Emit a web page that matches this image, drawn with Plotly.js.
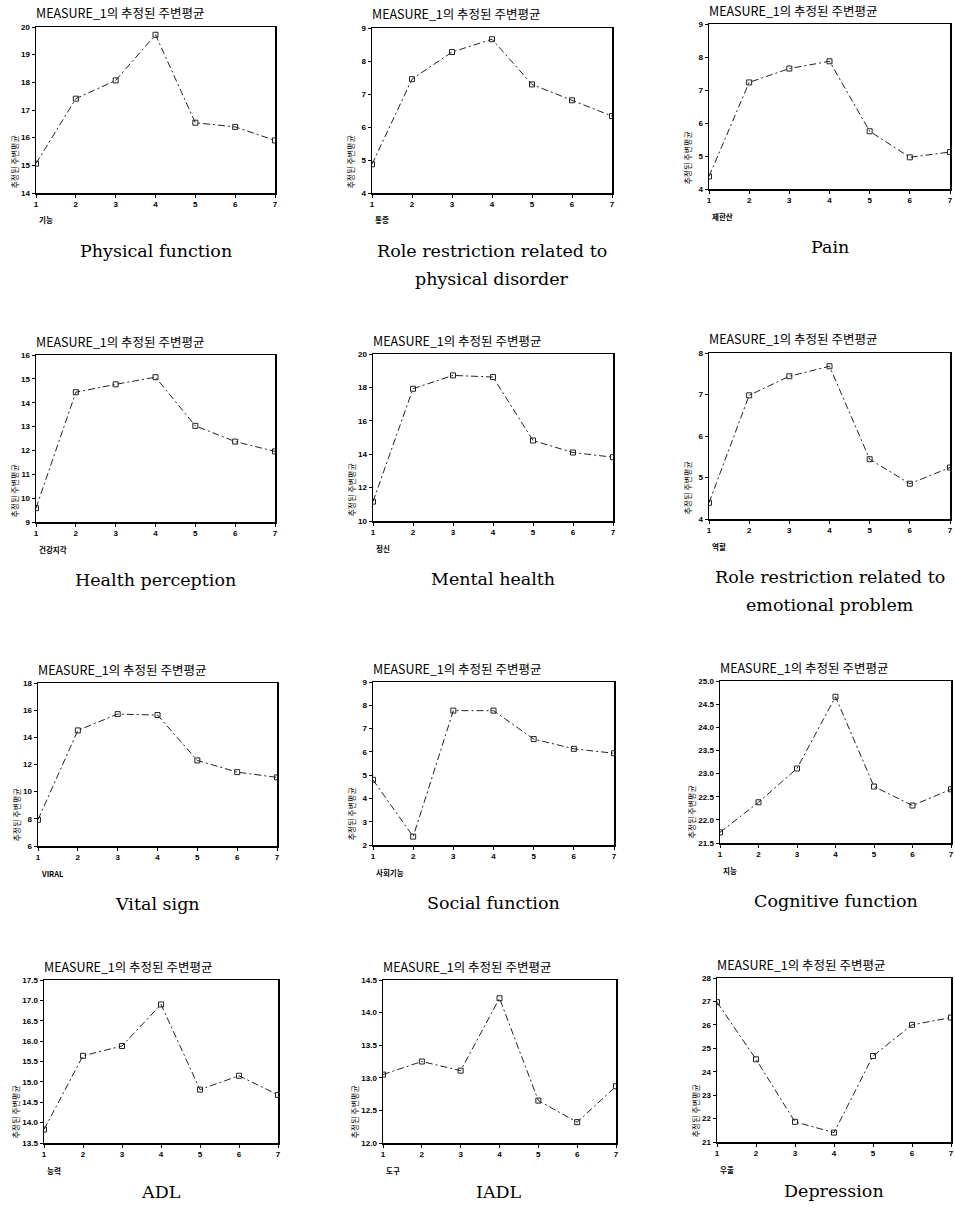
<!DOCTYPE html>
<html><head><meta charset="utf-8">
<script src="https://cdn.plot.ly/plotly-3.0.1.min.js"></script>
<style>html,body{margin:0;padding:0;background:#fff;}#chart{width:955px;height:1213px;}</style>
</head><body><div id="chart"></div>
<script>
// ---- data ----
const groups = [1, 2, 3, 4, 5, 6, 7];
const physicalFunction = [15.06, 17.41, 18.07, 19.72, 16.54, 16.39, 15.9];
const roleRestrictionPhysical = [4.87, 7.45, 8.27, 8.66, 7.29, 6.81, 6.33];
const pain = [4.38, 7.23, 7.65, 7.87, 5.75, 4.96, 5.12];
const healthPerception = [9.58, 14.44, 14.77, 15.07, 13.03, 12.37, 11.96];
const mentalHealth = [11.16, 17.92, 18.72, 18.62, 14.82, 14.1, 13.82];
const roleRestrictionEmotional = [4.39, 6.98, 7.44, 7.68, 5.44, 4.85, 5.24];
const vitalSign = [7.93, 14.51, 15.71, 15.64, 12.3, 11.44, 11.05];
const socialFunction = [4.8, 2.36, 7.77, 7.77, 6.55, 6.13, 5.94];
const cognitiveFunction = [21.73, 22.38, 23.11, 24.66, 22.72, 22.31, 22.66];
const adl = [13.83, 15.64, 15.88, 16.9, 14.81, 15.15, 14.68];
const iadl = [13.05, 13.25, 13.11, 14.22, 12.65, 12.32, 12.87];
const depression = [26.97, 24.53, 21.86, 21.4, 24.67, 26.0, 26.31];

const seriesList = [physicalFunction, roleRestrictionPhysical, pain, healthPerception, mentalHealth,
  roleRestrictionEmotional, vitalSign, socialFunction, cognitiveFunction, adl, iadl, depression];
const captions = ["Physical function", "Role restriction related to<br>physical disorder", "Pain",
  "Health perception", "Mental health", "Role restriction related to<br>emotional problem",
  "Vital sign", "Social function", "Cognitive function", "ADL", "IADL", "Depression"];
const koreanLabels = ["기능", "통증", "제한산", "건강지각", "정신", "역할", "VIRAL", "사회기능", "지능", "능력", "도구", "우울"];
const yMin = [14, 4, 4, 9, 10, 4, 6, 2, 21.5, 13.5, 12, 21];
const yMax = [20, 9, 9, 16, 20, 8, 18, 9, 25, 17.5, 14.5, 28];
const yStep = [1, 1, 1, 1, 2, 1, 2, 1, 0.5, 0.5, 0.5, 1];
const chartTitle = "MEASURE_1의 추정된 주변평균";
const yTitle = "추정된 주변평균";

// ---- layout (pixel boxes of the plot areas) ----
const W = 955, H = 1213;
const boxes = [
  [36, 275, 27, 193], [372, 612, 28, 193], [709, 950, 24, 189],
  [36, 275, 355, 522], [373, 613, 354, 521], [709, 950, 353, 519],
  [38, 277, 683, 846], [373, 614, 682, 845], [720, 951, 681, 843],
  [44, 278, 980, 1143], [383, 616, 980, 1143], [717, 951, 978, 1142]
];
const fx = p => p / W, fy = p => 1 - p / H;

const traces = [];
const layout = {
  width: W, height: H, margin: {l: 0, r: 0, t: 0, b: 0},
  paper_bgcolor: '#fff', plot_bgcolor: '#fff', showlegend: false,
  annotations: []
};
const tickFont = {family: 'Liberation Sans Narrow, Liberation Sans, Arial, sans-serif', size: 8, color: '#000', weight: 'bold'};

seriesList.forEach((vals, i) => {
  const n = i + 1;
  const [l, r, t, b] = boxes[i];
  const xa = 'xaxis' + (n === 1 ? '' : n), ya = 'yaxis' + (n === 1 ? '' : n);
  traces.push({
    x: groups, y: vals, xaxis: 'x' + (n === 1 ? '' : n), yaxis: 'y' + (n === 1 ? '' : n),
    type: 'scatter', mode: 'lines+markers',
    line: {color: '#222', width: 1, dash: '7px,3px,2px,3px'},
    marker: {symbol: 'square-open', size: 5, color: '#222', line: {width: 1}}
  });
  layout[xa] = {
    domain: [fx(l), fx(r)], anchor: 'y' + (n === 1 ? '' : n), range: [1, 7],
    tickmode: 'array', tickvals: groups, ticks: 'outside', ticklen: 3, tickwidth: 1, tickcolor: '#000',
    showgrid: false, zeroline: false, showline: true, linecolor: '#000', linewidth: 1.5, mirror: true,
    tickfont: tickFont
  };
  layout[ya] = {
    domain: [fy(b), fy(t)], anchor: 'x' + (n === 1 ? '' : n), range: [yMin[i], yMax[i]],
    tick0: yMin[i], dtick: yStep[i], ticks: 'outside', ticklen: 3, tickwidth: 1, tickcolor: '#000',
    tickformat: yStep[i] < 1 ? '.1f' : 'd',
    showgrid: false, zeroline: false, showline: true, linecolor: '#000', linewidth: 1.5, mirror: true,
    tickfont: tickFont
  };
  // title
  layout.annotations.push({
    text: chartTitle, xref: 'paper', yref: 'paper', x: fx(l - 2), y: fy(t - 14),
    xanchor: 'left', yanchor: 'middle', showarrow: false,
    font: {family: 'Noto Sans CJK KR, sans-serif', size: 12.5, color: '#000'}
  });
  // y title
  layout.annotations.push({
    text: yTitle, xref: 'paper', yref: 'paper', x: fx(l - (yStep[i] < 1 ? 29 : 22)), y: fy(b - 2),
    xanchor: 'center', yanchor: 'bottom', textangle: -90, showarrow: false,
    font: {family: 'Noto Sans CJK KR, sans-serif', size: 8, color: '#000'}
  });
  // korean x label
  layout.annotations.push({
    text: '<b>' + koreanLabels[i] + '</b>', xref: 'paper', yref: 'paper', x: fx(l + 1), y: fy(b + 27),
    xanchor: 'left', yanchor: 'middle', showarrow: false,
    font: {family: 'Noto Sans CJK KR, sans-serif', size: 7.5, color: '#000'}
  });
  // caption (each line placed separately, 28px apart)
  const baseY = b + (i >= 9 ? 49 : 58);
  captions[i].split('<br>').forEach((line, k) => {
    layout.annotations.push({
      text: line, xref: 'paper', yref: 'paper', x: fx((l + r) / 2), y: fy(baseY + 28 * k),
      xanchor: 'center', yanchor: 'middle', showarrow: false,
      font: {family: 'DejaVu Serif, Liberation Serif, serif', size: 17.5, color: '#000'}
    });
  });
});

Plotly.newPlot('chart', traces, layout, {displayModeBar: false, staticPlot: true});
</script>
</body></html>
